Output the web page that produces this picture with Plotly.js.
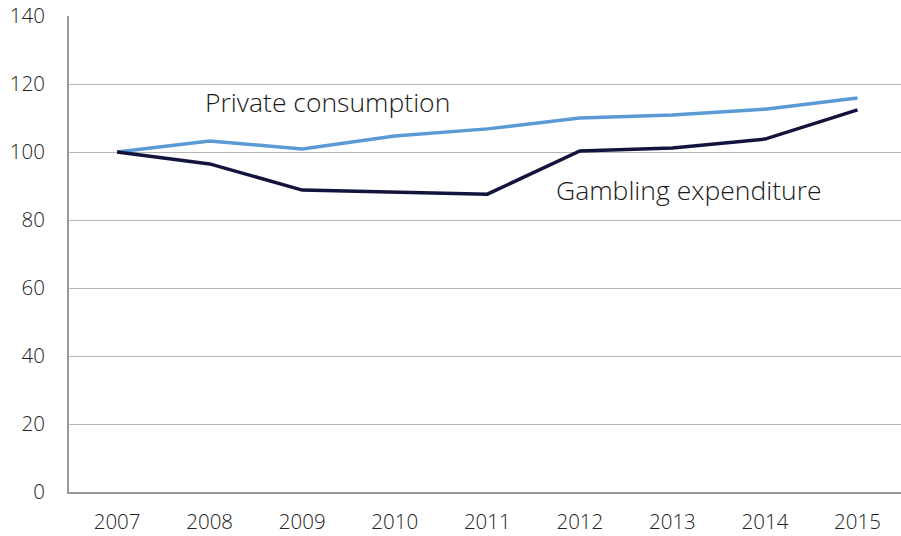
<!DOCTYPE html>
<html>
<head>
<meta charset="utf-8">
<script src="https://cdn.plot.ly/plotly-3.0.1.min.js"></script>
<style>html,body{margin:0;padding:0;background:#fff;}#chart{width:901px;height:536px;}</style>
</head>
<body>
<div id="chart"></div>
<script>
var years = [2007, 2008, 2009, 2010, 2011, 2012, 2013, 2014, 2015];
var privateConsumption = [100, 103.2, 100.9, 104.7, 106.8, 110.0, 110.9, 112.6, 115.9];
var gamblingExpenditure = [100, 96.5, 88.8, 88.2, 87.6, 100.3, 101.2, 103.8, 112.4];
var yTicks = [0, 20, 40, 60, 80, 100, 120, 140];

var traces = [
  {x: years, y: privateConsumption, type: 'scatter', mode: 'lines', name: 'Private consumption',
   line: {color: '#5b9bd5', width: 3.5}},
  {x: years, y: gamblingExpenditure, type: 'scatter', mode: 'lines', name: 'Gambling expenditure',
   line: {color: '#13143d', width: 3.5}}
];

var layout = {
  width: 901, height: 536,
  margin: {l: 69, r: 0, t: 16, b: 44},
  paper_bgcolor: '#fff', plot_bgcolor: '#fff',
  showlegend: false,
  font: {family: 'Open Sans, sans-serif', color: '#222', size: 20.5, weight: 300},
  xaxis: {
    range: [2006.48, 2015.47], tickvals: years, ticktext: years.map(String),
    showgrid: false, zeroline: false, showline: true, linecolor: '#999', linewidth: 2,
    ticks: '', ticklabelstandoff: 10, fixedrange: true,
    tickfont: {size: 20.5, weight: 300, color: '#222'}
  },
  yaxis: {
    range: [0, 140], tickvals: yTicks, showgrid: true, gridcolor: '#b5b5b5', gridwidth: 1,
    zeroline: false, showline: true, linecolor: '#999', linewidth: 2,
    ticks: '', ticklabelstandoff: 18, fixedrange: true,
    tickfont: {size: 20.5, weight: 300, color: '#222'}
  },
  annotations: [
    {x: 2009.27, y: 114.7, xref: 'x', yref: 'y', text: 'Private consumption', showarrow: false,
     font: {size: 26.5, color: '#1a1a1a', family: 'Open Sans, sans-serif', weight: 300}},
    {x: 2013.18, y: 88.8, xref: 'x', yref: 'y', text: 'Gambling expenditure', showarrow: false,
     font: {size: 26.5, color: '#1a1a1a', family: 'Open Sans, sans-serif', weight: 300}}
  ]
};

Plotly.newPlot('chart', traces, layout, {displayModeBar: false, staticPlot: true});
</script>
</body>
</html>
